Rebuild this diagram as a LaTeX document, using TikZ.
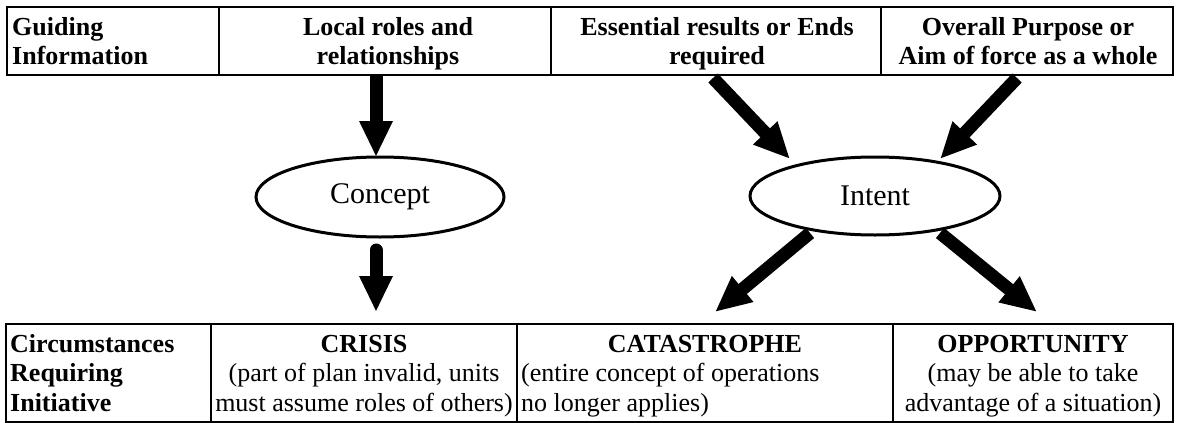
\documentclass[tikz,border=0pt]{standalone}
\usepackage{fontspec}
\setmainfont{Liberation Serif}
\usetikzlibrary{arrows.meta,shapes.geometric}
\newcommand{\tabfont}{\fontsize{26}{29.5}\selectfont}
\begin{document}
\begin{tikzpicture}[x=1pt,y=-1pt,
  frame/.style={line width=2.6pt},
  divider/.style={line width=1.3pt},
  cell/.style={inner sep=0pt, font=\tabfont},
  oval/.style={ellipse, draw, line width=3pt, inner sep=0pt, font=\fontsize{30}{34}\selectfont},
  blockarrow/.style={line width=13pt, -{Triangle[length=36pt,width=31pt]}},
]
\useasboundingbox (0,0) rectangle (1178,423);
% top table
\draw[frame] (7,7) rectangle (1173,75);
\draw[divider] (219,7) -- (219,75) (551,7) -- (551,75) (881,7) -- (881,75);
\node[cell, anchor=west] (gi) at (12,44) {\tabfont\begin{tabular}{@{}l@{}}\textbf{Guiding}\\\textbf{Information}\end{tabular}};
\node[cell] (lr) at (388,44) {\tabfont\begin{tabular}{@{}c@{}}\textbf{Local roles and}\\\textbf{relationships}\end{tabular}};
\node[cell] (er) at (717,44) {\tabfont\begin{tabular}{@{}c@{}}\textbf{Essential results or Ends}\\\textbf{required}\end{tabular}};
\node[cell] (op) at (1028,44) {\tabfont\begin{tabular}{@{}c@{}}\textbf{Overall Purpose or}\\\textbf{Aim of force as a whole}\end{tabular}};
% bottom table
\draw[frame] (6,324) rectangle (1173,422);
\draw[divider] (211,324) -- (211,422) (517,324) -- (517,422) (893,324) -- (893,422);
\node[cell, anchor=west] (ci) at (10,376) {\tabfont\begin{tabular}{@{}l@{}}\textbf{Circumstances}\\\textbf{Requiring}\\\textbf{Initiative}\end{tabular}};
\node[cell] (cr) at (364,376) {\tabfont\begin{tabular}{@{}c@{}}\textbf{CRISIS}\\(part of plan invalid, units\\must assume roles of others)\end{tabular}};
\node[cell, anchor=west] (cad) at (521,376) {\tabfont\begin{tabular}{@{}l@{}}\strut\\(entire concept of operations\\no longer applies)\end{tabular}};
\node[cell, anchor=base] (ca) at (705,352.4) {\textbf{CATASTROPHE}};
\node[cell] (oo) at (1033,376) {\tabfont\begin{tabular}{@{}c@{}}\textbf{OPPORTUNITY}\\(may be able to take\\advantage of a situation)\end{tabular}};
% ellipses
\node[oval, minimum width=248pt, minimum height=80pt] (concept) at (380,197) {Concept};
\node[oval, minimum width=250pt, minimum height=78pt] (intent) at (875,196) {Intent};
% arrow end points
\coordinate (a1s) at (376,75);
\coordinate (a1e) at (376,157);
\coordinate (a2s) at (376,250);
\coordinate (a2e) at (376,312);
\coordinate (b1s) at (713,78);
\coordinate (b1e) at (790,159);
\coordinate (b2s) at (1017,78);
\coordinate (b2e) at (940,159);
\coordinate (c1s) at (810,233);
\coordinate (c1e) at (715,312);
\coordinate (c2s) at (940,233);
\coordinate (c2e) at (1037,312);
\draw[blockarrow] (a1s) -- (a1e);
\draw[blockarrow, line cap=round] (a2s) -- (a2e);
\draw[blockarrow] (b1s) -- (b1e);
\draw[blockarrow] (b2s) -- (b2e);
\draw[blockarrow] (c1s) -- (c1e);
\draw[blockarrow] (c2s) -- (c2e);
\end{tikzpicture}
\end{document}
